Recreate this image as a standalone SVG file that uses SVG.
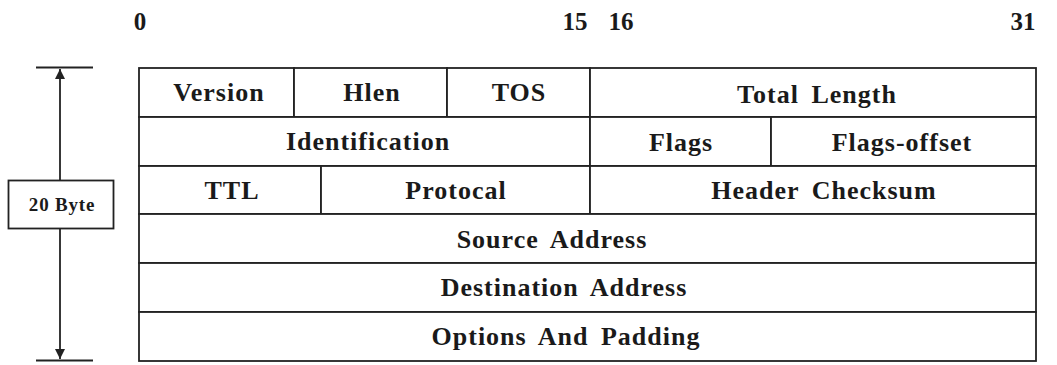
<svg xmlns="http://www.w3.org/2000/svg" width="1057" height="365" viewBox="0 0 1057 365" font-family="Liberation Serif, Times New Roman, serif">
<style>
.t{font-weight:700;font-size:26px;fill:#1a1a1a;text-anchor:middle;letter-spacing:1px;word-spacing:5px}
.s{font-weight:700;font-size:19px;fill:#1a1a1a;text-anchor:middle;letter-spacing:0.8px}
.n{font-weight:700;font-size:25px;fill:#1a1a1a;text-anchor:middle}
.c{fill:#fff;stroke:#222;stroke-width:1.8}
.l{stroke:#222;stroke-width:1.8;fill:none}
</style>
<defs>
<marker id="ah" viewBox="0 0 10 10" refX="10" refY="5" markerWidth="10" markerHeight="16" markerUnits="userSpaceOnUse" orient="auto">
<path d="M0,0 L10,5 L0,10 Z" fill="#222"/>
</marker>
</defs>
<g id="bit-numbers" font-family="Liberation Serif, serif">
<text class="n" x="140" y="30">0</text>
<text class="n" x="575" y="30">15</text>
<text class="n" x="621" y="30">16</text>
<text class="n" x="1023" y="30">31</text>
</g>
<g id="connectors">
<line class="l" x1="36" y1="67.5" x2="93" y2="67.5"/>
<line class="l" x1="36" y1="360.5" x2="93" y2="360.5"/>
<line class="l" x1="60" y1="205" x2="60" y2="69" marker-end="url(#ah)"/>
<line class="l" x1="60" y1="205" x2="60" y2="359" marker-end="url(#ah)"/>
</g>
<g id="size-label" font-family="Liberation Serif, serif">
<rect class="c" x="8.5" y="180.5" width="105" height="48"/>
<text class="s" x="62" y="211">20 Byte</text>
</g>
<g id="fields" font-family="Liberation Serif, serif">
<g id="row1">
<g id="version"><rect class="c" x="139" y="68" width="155" height="49"/><text class="t" x="219" y="101">Version</text></g>
<g id="hlen"><rect class="c" x="294" y="68" width="153" height="49"/><text class="t" x="372" y="101">Hlen</text></g>
<g id="tos"><rect class="c" x="447" y="68" width="143" height="49"/><text class="t" x="519" y="101">TOS</text></g>
<g id="total-length"><rect class="c" x="590" y="68" width="446" height="49"/><text class="t" x="817" y="103">Total Length</text></g>
</g>
<g id="row2">
<g id="identification"><rect class="c" x="139" y="117" width="451" height="49"/><text class="t" x="368" y="150">Identification</text></g>
<g id="flags"><rect class="c" x="590" y="117" width="181" height="49"/><text class="t" x="681" y="151">Flags</text></g>
<g id="flags-offset"><rect class="c" x="771" y="117" width="265" height="49"/><text class="t" x="902" y="151">Flags-offset</text></g>
</g>
<g id="row3">
<g id="ttl"><rect class="c" x="139" y="166" width="182" height="48"/><text class="t" x="232" y="199">TTL</text></g>
<g id="protocal"><rect class="c" x="321" y="166" width="269" height="48"/><text class="t" x="456" y="199">Protocal</text></g>
<g id="header-checksum"><rect class="c" x="590" y="166" width="446" height="48"/><text class="t" x="824" y="199">Header Checksum</text></g>
</g>
<g id="source-address"><rect class="c" x="139" y="214" width="897" height="49"/><text class="t" x="552" y="248">Source Address</text></g>
<g id="destination-address"><rect class="c" x="139" y="263" width="897" height="49"/><text class="t" x="564" y="296">Destination Address</text></g>
<g id="options-and-padding"><rect class="c" x="139" y="312" width="897" height="49"/><text class="t" x="566" y="345">Options And Padding</text></g>
</g>
</svg>
